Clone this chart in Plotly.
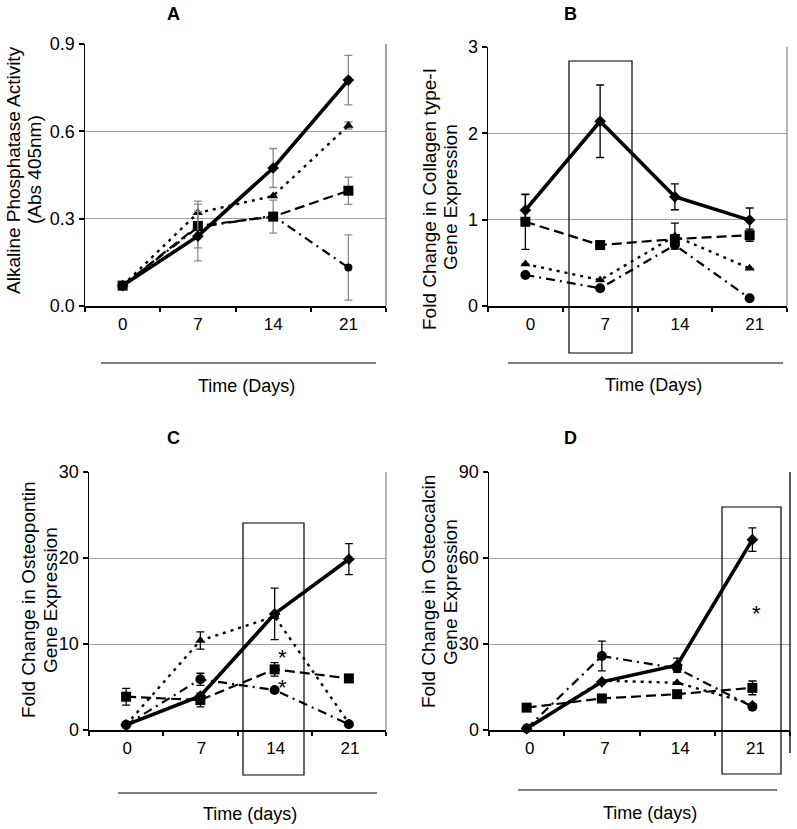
import plotly.graph_objects as go

days = ["0", "7", "14", "21"]

# ---------------- Panel A: Alkaline phosphatase ----------------
a_diamond = [0.07, 0.24, 0.474, 0.776]
a_diamond_err = [0.0, 0.085, 0.067, 0.085]
a_triangle = [0.07, 0.32, 0.378, 0.62]
a_triangle_err = [0.0, 0.04, 0.0, 0.012]
a_square = [0.07, 0.275, 0.307, 0.396]
a_square_err = [0.0, 0.075, 0.057, 0.047]
a_circle = [0.07, 0.27, 0.31, 0.132]
a_circle_err = [0.0, 0.0, 0.0, 0.112]

# ---------------- Panel B: Collagen type-I ----------------
b_diamond = [1.11, 2.14, 1.265, 0.995]
b_diamond_err = [0.18, 0.42, 0.15, 0.14]
b_square = [0.976, 0.706, 0.775, 0.82]
b_square_err = [0.32, 0.0, 0.0, 0.07]
b_triangle = [0.486, 0.30, 0.81, 0.436]
b_triangle_err = [0.0, 0.0, 0.15, 0.0]
b_circle = [0.36, 0.205, 0.706, 0.089]
b_circle_err = [0.0, 0.0, 0.0, 0.0]

# ---------------- Panel C: Osteopontin ----------------
c_diamond = [0.6, 3.95, 13.5, 19.86]
c_diamond_err = [0.0, 0.0, 3.0, 1.8]
c_triangle = [0.6, 10.4, 13.2, 0.8]
c_triangle_err = [0.0, 1.0, 0.0, 0.0]
c_square = [3.87, 3.48, 7.05, 6.0]
c_square_err = [0.98, 0.8, 0.78, 0.0]
c_circle = [0.6, 5.9, 4.65, 0.66]
c_circle_err = [0.0, 0.7, 0.0, 0.0]
c_stars_y = [8.98, 5.5]

# ---------------- Panel D: Osteocalcin ----------------
d_diamond = [0.5, 16.8, 22.6, 66.4]
d_diamond_err = [0.0, 0.0, 2.5, 4.1]
d_circle = [0.5, 25.8, 21.5, 8.1]
d_circle_err = [0.0, 5.2, 0.0, 0.0]
d_triangle = [0.5, 17.2, 16.5, 9.0]
d_triangle_err = [0.0, 0.0, 0.0, 0.0]
d_square = [7.8, 11.0, 12.5, 14.7]
d_square_err = [0.0, 0.0, 0.0, 2.4]
d_star_y = [42.4]

FONT = "Liberation Sans, Arial, sans-serif"
W, H = 797, 829


def px(x):
    return x / W


def py(y):
    return 1 - y / H


styles = {
    "circle":   dict(symbol="circle", size=10, dash="9px,5px,2px,5px", width=2.2),
    "triangle": dict(symbol="triangle-up", size=9, dash="3px,5px", width=2.4),
    "square":   dict(symbol="square", size=10, dash="10px,5px", width=2.2),
    "diamond":  dict(symbol="diamond", size=9, dash="solid", width=3.6),
}

panels = [
    dict(n="", series=[("circle", a_circle, a_circle_err), ("triangle", a_triangle, a_triangle_err),
                       ("square", a_square, a_square_err), ("diamond", a_diamond, a_diamond_err)],
         errcolor="#8a8a8a", yrange=[0, 0.9], dtick=0.3, fmt=".1f",
         xdom=[85, 386], ydom=[44, 306], lshift=0),
    dict(n="2", series=[("circle", b_circle, b_circle_err), ("triangle", b_triangle, b_triangle_err),
                        ("square", b_square, b_square_err), ("diamond", b_diamond, b_diamond_err)],
         errcolor="black", yrange=[0, 3], dtick=1, fmt="d",
         xdom=[488, 787], ydom=[47, 306], lshift=5),
    dict(n="3", series=[("circle", c_circle, c_circle_err), ("triangle", c_triangle, c_triangle_err),
                        ("square", c_square, c_square_err), ("diamond", c_diamond, c_diamond_err)],
         errcolor="black", yrange=[0, 30], dtick=10, fmt="d",
         xdom=[89, 386], ydom=[472, 730], lshift=1),
    dict(n="4", series=[("circle", d_circle, d_circle_err), ("triangle", d_triangle, d_triangle_err),
                        ("square", d_square, d_square_err), ("diamond", d_diamond, d_diamond_err)],
         errcolor="black", yrange=[0, 90], dtick=30, fmt="d",
         xdom=[489, 790], ydom=[472, 730], lshift=3),
]

fig = go.Figure()
layout = dict(width=W, height=H, margin=dict(l=0, r=0, t=0, b=0, pad=0, autoexpand=False),
              template="none",
              paper_bgcolor="white", plot_bgcolor="white", showlegend=False,
              font=dict(family=FONT, color="black"))
shapes = []
annotations = []

for p in panels:
    n = p["n"]
    for name, vals, err in p["series"]:
        st = styles[name]
        size = st["size"] - (2 if (n == "" and name == "circle") else 0)
        fig.add_trace(go.Scatter(
            x=days, y=vals, xaxis="x" + n, yaxis="y" + n, mode="lines+markers",
            line=dict(color="black", width=st["width"], dash=st["dash"]),
            marker=dict(symbol=st["symbol"], size=size, color="black", line=dict(width=0)),
            error_y=dict(type="data", array=err, visible=True, color=p["errcolor"],
                         thickness=1.3, width=4),
            cliponaxis=False, hoverinfo="skip",
        ))
    xd = [px(p["xdom"][0]), px(p["xdom"][1])]
    yd = [py(p["ydom"][1]), py(p["ydom"][0])]
    layout["xaxis" + n] = dict(
        domain=xd, anchor="y" + n, type="category", range=[-0.5, 3.5], automargin=False,
        tickson="boundaries", ticks="outside", ticklen=4, tickwidth=2, tickcolor="black",
        showline=True, linecolor="black", linewidth=1.5, showgrid=False, zeroline=False,
        tickfont=dict(size=17, family=FONT), ticklabelstandoff=2,
        ticklabelshift=p["lshift"], fixedrange=True)
    layout["yaxis" + n] = dict(
        domain=yd, anchor="x" + n, range=p["yrange"], dtick=p["dtick"], tick0=0, automargin=False,
        tickformat=p["fmt"], ticks="outside", ticklen=5, tickwidth=2, tickcolor="black",
        showline=True, linecolor="black", linewidth=1.5, showgrid=True,
        gridcolor="#a0a0a0", gridwidth=1, zeroline=False,
        tickfont=dict(size=18, family=FONT), ticklabelstandoff=0, fixedrange=True)
    # right border of the plot area
    if n != "4":
        shapes.append(dict(type="line", xref="x%s domain" % n, yref="y%s domain" % n,
                           x0=1, x1=1, y0=0, y1=1,
                           line=dict(color="#707070" if n == "" else "#909090", width=1.3)))

# D right border extends below the axis
shapes.append(dict(type="line", xref="paper", yref="paper", x0=px(790), x1=px(790),
                   y0=py(753), y1=py(472), line=dict(color="black", width=1.3)))

# lines beneath the x tick labels
for x0, x1, y in [(101, 376, 363), (508, 783, 363), (118, 377, 793), (518, 777, 790)]:
    shapes.append(dict(type="line", xref="paper", yref="paper", x0=px(x0), x1=px(x1),
                       y0=py(y), y1=py(y), line=dict(color="black", width=1.2)))

# highlight boxes
for x0, x1, y0, y1 in [(569, 632, 61, 353), (243, 304, 523, 775), (722, 781, 507, 774)]:
    shapes.append(dict(type="rect", xref="paper", yref="paper", x0=px(x0), x1=px(x1),
                       y0=py(y1), y1=py(y0), line=dict(color="black", width=1.2),
                       fillcolor="rgba(0,0,0,0)"))

# panel letters
for t, x, y in [("A", 173, 14), ("B", 570, 14), ("C", 173, 438), ("D", 570, 438)]:
    annotations.append(dict(text="<b>%s</b>" % t, x=px(x), y=py(y), xref="paper", yref="paper",
                            showarrow=False, font=dict(size=18, family=FONT),
                            xanchor="center", yanchor="middle"))

# x axis titles
for t, x, y in [("Time (Days)", 246, 386), ("Time (Days)", 653, 385),
                ("Time (days)", 250, 814), ("Time (days)", 650, 813)]:
    annotations.append(dict(text=t, x=px(x), y=py(y), xref="paper", yref="paper",
                            showarrow=False, font=dict(size=18, family=FONT),
                            xanchor="center", yanchor="middle"))

# y axis titles (two lines each)
for t, x, y in [("Alkaline Phosphatase Activity", 13, 170), ("(Abs 405nm)", 34, 170),
                ("Fold Change in Collagen type-I", 429, 199), ("Gene Expression", 450, 197),
                ("Fold Change in Osteopontin", 28, 600), ("Gene Expression", 50, 600),
                ("Fold Change in Osteocalcin", 428, 592), ("Gene Expression", 450, 592)]:
    annotations.append(dict(text=t, x=px(x), y=py(y), xref="paper", yref="paper",
                            showarrow=False, textangle=-90, font=dict(size=19, family=FONT),
                            xanchor="center", yanchor="middle", borderpad=0))

# significance asterisks
for yv in c_stars_y:
    annotations.append(dict(text="*", x=2.1, y=yv, xref="x3", yref="y3", showarrow=False,
                            font=dict(size=22, family=FONT), yshift=-5))
for yv in d_star_y:
    annotations.append(dict(text="*", x=3.06, y=yv, xref="x4", yref="y4", showarrow=False,
                            font=dict(size=22, family=FONT), yshift=-5))

layout["shapes"] = shapes
layout["annotations"] = annotations
layout["hovermode"] = False
fig.update_layout(**layout)
fig.write_html("out.html", config={"displayModeBar": False, "staticPlot": True},
               post_script="document.body.style.margin='0';document.body.style.padding='0';")
